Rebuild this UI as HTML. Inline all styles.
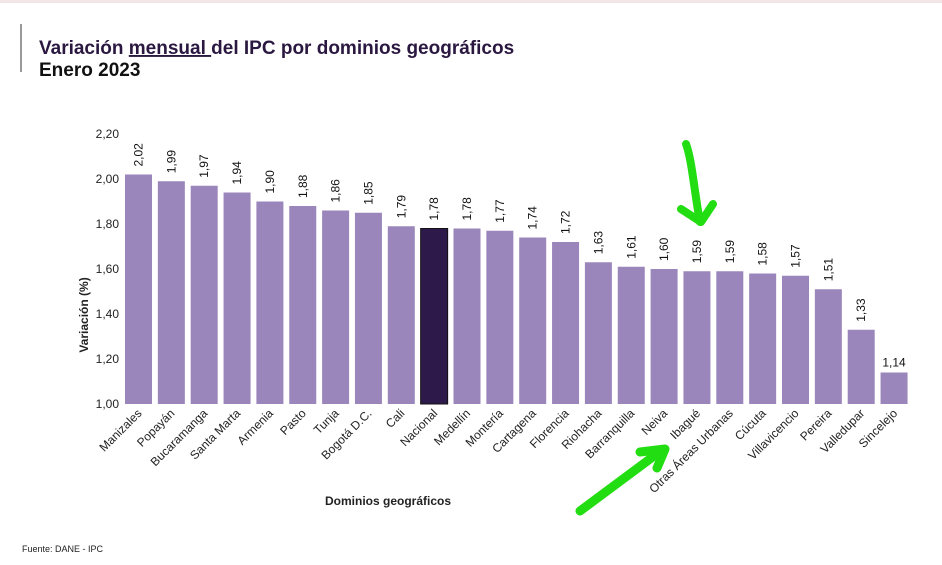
<!DOCTYPE html>
<html><head><meta charset="utf-8"><style>
body{margin:0;background:#fff;width:942px;height:560px;overflow:hidden;font-family:"Liberation Sans",sans-serif}
</style></head><body>
<svg width="942" height="560" viewBox="0 0 942 560" xmlns="http://www.w3.org/2000/svg" font-family="Liberation Sans, sans-serif">
<rect x="0" y="0" width="942" height="3" fill="#f3e6e8"/>
<rect x="20" y="24" width="2" height="48" fill="#999"/>
<text x="39" y="54" font-size="19" font-weight="bold" fill="#2a1840">Variación <tspan text-decoration="underline">mensual </tspan>del IPC por dominios geográficos</text>
<text x="39" y="76" font-size="19" font-weight="bold" fill="#111">Enero 2023</text>
<g font-size="12" fill="#222" text-anchor="end">
<text x="119" y="138">2,20</text><text x="119" y="183">2,00</text><text x="119" y="228">1,80</text>
<text x="119" y="273">1,60</text><text x="119" y="318">1,40</text><text x="119" y="363">1,20</text><text x="119" y="408">1,00</text>
</g>
<text transform="translate(88,315) rotate(-90)" font-size="12" font-weight="bold" text-anchor="middle" fill="#222">Variación (%)</text>
<text x="388" y="505" font-size="12" font-weight="bold" text-anchor="middle" fill="#222">Dominios geográficos</text>
<text x="22" y="552" font-size="9" fill="#222">Fuente: DANE - IPC</text>
<g id="bars"></g>
<path d="M686,144 C692,160 694,190 700,222" stroke="#22dd11" stroke-width="8" fill="none" stroke-linecap="round"/>
<path d="M681,209 L701,222 L713,204" stroke="#22dd11" stroke-width="8" fill="none" stroke-linecap="round" stroke-linejoin="round"/>
<path d="M580,511 L662,450" stroke="#22dd11" stroke-width="9" fill="none" stroke-linecap="round"/>
<path d="M640,452 L665,449 L657,468" stroke="#22dd11" stroke-width="9" fill="none" stroke-linecap="round" stroke-linejoin="round"/>
</svg>
<script>
var d=[["Manizales",2.02],["Popayán",1.99],["Bucaramanga",1.97],["Santa Marta",1.94],["Armenia",1.90],["Pasto",1.88],["Tunja",1.86],["Bogotá D.C.",1.85],["Cali",1.79],["Nacional",1.78],["Medellín",1.78],["Montería",1.77],["Cartagena",1.74],["Florencia",1.72],["Riohacha",1.63],["Barranquilla",1.61],["Neiva",1.60],["Ibagué",1.59],["Otras Áreas Urbanas",1.59],["Cúcuta",1.58],["Villavicencio",1.57],["Pereira",1.51],["Valledupar",1.33],["Sincelejo",1.14]];
var g=document.getElementById("bars"),s="";
d.forEach(function(e,i){var x=125+i*32.85,w=27,t=404-(e[1]-1)*225,c=x+w/2;
s+='<rect x="'+x+'" y="'+t+'" width="'+w+'" height="'+(404-t)+'" fill="'+(e[0]=="Nacional"?"#2e1a4a":"#9b86bb")+'" stroke="'+(e[0]=="Nacional"?"#111":"none")+'"/>';
var v=e[1].toFixed(2).replace(".",",");
if(i==23)s+='<text x="'+c+'" y="'+(t-6)+'" font-size="12" text-anchor="middle" fill="#111">'+v+'</text>';
else s+='<text transform="translate('+(c+4)+','+(t-8)+') rotate(-90)" font-size="12" fill="#111">'+v+'</text>';
s+='<text transform="translate('+(c+4)+',414) rotate(-45)" font-size="12" text-anchor="end" fill="#222">'+e[0]+'</text>';});
g.innerHTML=s;
</script>
</body></html>
